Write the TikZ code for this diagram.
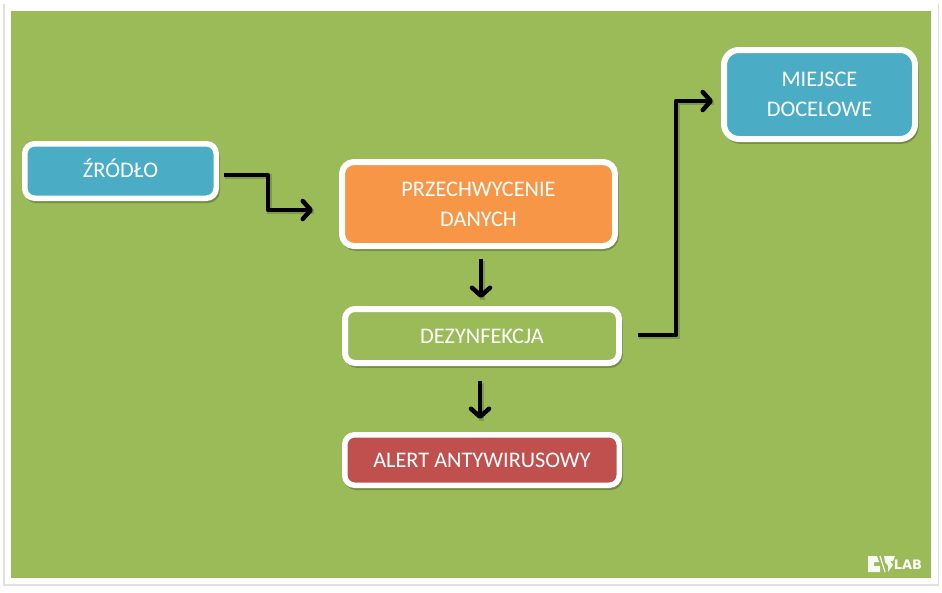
\documentclass[tikz,border=0pt]{standalone}
\usepackage{fontspec}
\setmainfont{Carlito}
\newfontfamily\logofont{DejaVu Sans}
\usetikzlibrary{arrows.meta,shadows}
\definecolor{bgGreen}{HTML}{9BBB59}
\definecolor{boxBlue}{HTML}{4BACC6}
\definecolor{boxOrange}{HTML}{F79646}
\definecolor{boxRed}{HTML}{C0504D}
\tikzset{
  flowbox/.style={draw=white,line width=5.5pt,rounded corners=10pt,text=white,align=center,
    font=\fontsize{22.3}{30}\selectfont,inner sep=0pt,
    drop shadow={shadow xshift=1.5pt,shadow yshift=-2.5pt,opacity=.35,draw=black!70!bgGreen,line width=4.5pt}},
  flowarrow/.style={->,line width=4.5pt,black,line join=round,
    preaction={draw=black!70!bgGreen,opacity=.25,line width=5pt,-,transform canvas={shift={(1pt,-1.5pt)}}}},
}
\begin{document}
\begin{tikzpicture}[x=1pt,y=-1pt,>={Straight Barb[length=8pt,width=18pt,line width=4.5pt,round]}]
        \useasboundingbox (0,0) rectangle (942,592);
        % frame
        \fill[white] (0,0) rectangle (942,592);
        \fill[black!12] (3,4) rectangle (939,586);
        \fill[white] (5,4) rectangle (938,584);
        \fill[bgGreen] (11,11) rectangle (931,578);

        % boxes
        \node[flowbox,fill=boxBlue,minimum width=191.5pt,minimum height=54.5pt,text height=13pt,text depth=0pt] (zrodlo) at (120.5,171) {ŹRÓDŁO};
        \node[flowbox,fill=boxOrange,line width=6pt,minimum width=273pt,minimum height=84pt,rounded corners=12pt] (przechwycenie) at (478.5,204) {PRZECHWYCENIE\\DANYCH};
        \node[flowbox,fill=bgGreen,line width=6pt,minimum width=274pt,minimum height=54pt] (dezynfekcja) at (482,336) {DEZYNFEKCJA};
        \node[flowbox,fill=boxRed,minimum width=274.5pt,minimum height=50.5pt] (alert) at (482,460) {ALERT ANTYWIRUSOWY};
        \node[flowbox,fill=boxBlue,line width=6pt,minimum width=191pt,minimum height=89pt,rounded corners=15pt] (miejsce) at (819.5,94.5) {MIEJSCE\\DOCELOWE};

        % connector ends
        \coordinate (zrodloOut) at (224,175);
        \coordinate (przechIn) at (313,210);
        \coordinate (przechOut) at (481,259);
        \coordinate (dezIn) at (481,298);
        \coordinate (dezOut) at (480,381);
        \coordinate (alertIn) at (480,419);
        \coordinate (dezRight) at (638,335);
        \coordinate (miejsceIn) at (713,101);

        \draw[flowarrow] (zrodloOut) -- (268,175) -- (268,210) -- (przechIn);
        \draw[flowarrow] (przechOut) -- (dezIn);
        \draw[flowarrow] (dezOut) -- (alertIn);
        \draw[flowarrow] (dezRight) -- (676,335) -- (676,101) -- (miejsceIn);

        % logo
        \fill[white!92!bgGreen] (868,556) -- (877,556) -- (879,562) -- (874,562) -- (874,566) -- (880,566) -- (880,572) -- (868,572) -- cycle;
        \draw[white,line width=1.2pt] (880,556) -- (885,572);
        \fill[white!92!bgGreen] (884,556) -- (895,556) -- (893,561) -- (890,561) -- (893,565) -- (888,572) -- (888,566) -- (885,562) -- cycle;
        \node[text=white,font=\logofont\bfseries\fontsize{13}{14}\selectfont,inner sep=0pt] (logoLab) at (908,565) {LAB};
\end{tikzpicture}
\end{document}
